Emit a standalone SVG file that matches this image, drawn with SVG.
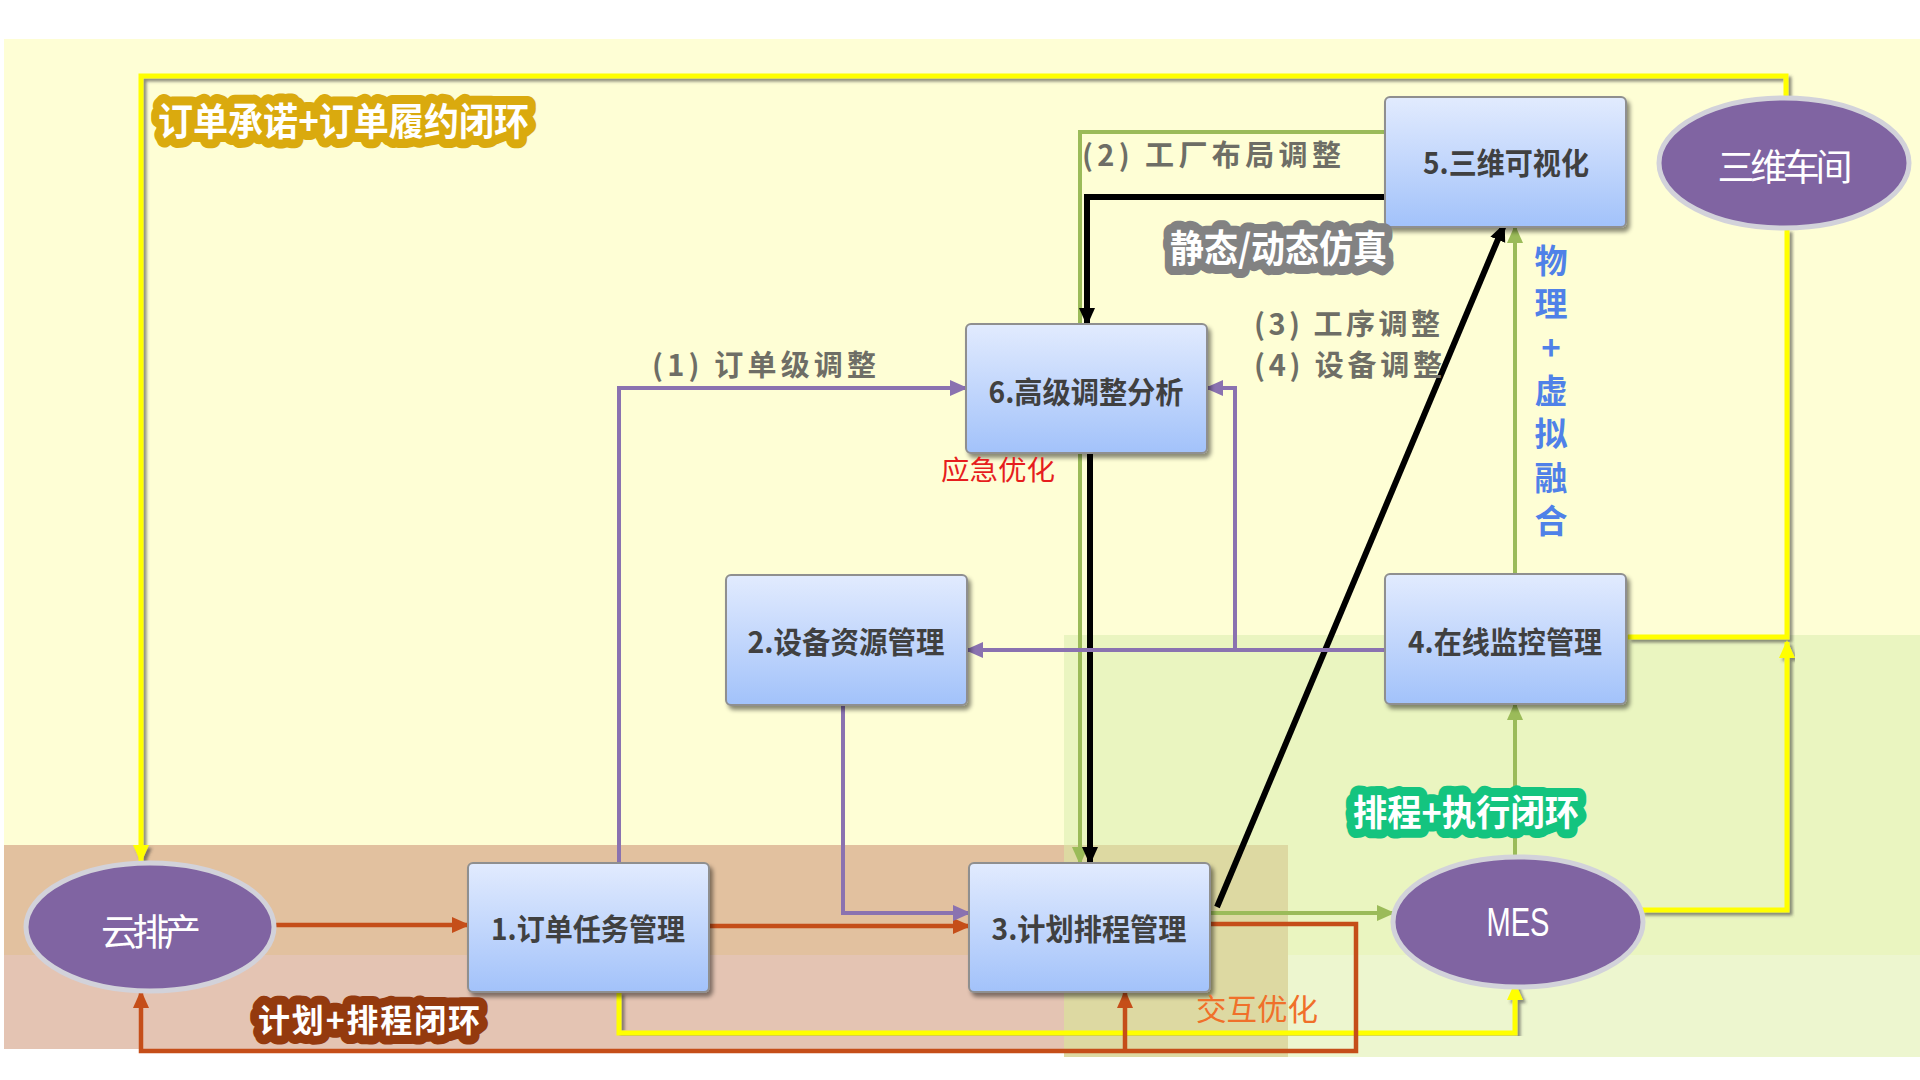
<svg xmlns="http://www.w3.org/2000/svg" width="1920" height="1080" viewBox="0 0 1920 1080">
<style>
.ntext{font-family:"Noto Sans CJK SC","Liberation Sans",sans-serif;font-weight:bold;font-size:30px;fill:#404040;text-anchor:middle;dominant-baseline:central}
.etext{font-family:"Noto Sans CJK SC","Liberation Sans",sans-serif;font-size:37px;fill:#ffffff;text-anchor:middle;dominant-baseline:central}
.lbl{font-family:"Noto Sans CJK SC","Liberation Sans",sans-serif;font-weight:bold;font-size:29px;fill:#6e6e66;dominant-baseline:central}
.cl{font-family:"Noto Sans CJK SC","Liberation Sans",sans-serif;font-weight:bold;dominant-baseline:central}
.cs{fill:none;stroke-width:18px;stroke-linejoin:round;stroke-linecap:round}
.cf{fill:#ffffff}
.box{fill:url(#boxg);stroke:#8f8f8f;stroke-width:2;filter:url(#sh)}
.ell{fill:#8064a2;stroke:#d2d2da;stroke-width:5}
.c{fill:none;stroke-linejoin:miter}
.y{stroke:#ffff00;stroke-width:5;filter:url(#lsh)}
.o{stroke:#c54e19;stroke-width:4.5}
.g{stroke:#9bbb59;stroke-width:4}
.k{stroke:#000000;stroke-width:6}
.p{stroke:#8a72b0;stroke-width:4}
</style>
<defs>
<linearGradient id="boxg" x1="0" y1="0" x2="0" y2="1">
<stop offset="0" stop-color="#e2ebfe"/>
<stop offset="1" stop-color="#a2c2fa"/>
</linearGradient>
<filter id="sh" x="-10%" y="-10%" width="130%" height="130%">
<feDropShadow dx="3" dy="4" stdDeviation="2" flood-color="#000" flood-opacity="0.45"/>
</filter>
<filter id="lsh" x="-5%" y="-5%" width="110%" height="110%">
<feDropShadow dx="3" dy="3" stdDeviation="1.5" flood-color="#404040" flood-opacity="0.6"/>
</filter>
<marker id="ay" markerUnits="userSpaceOnUse" markerWidth="18" markerHeight="18" viewBox="0 0 18 18" refX="16" refY="9" orient="auto"><path d="M0,1 L18,9 L0,17 Z" fill="#ffff00"/></marker>
<marker id="ao" markerUnits="userSpaceOnUse" markerWidth="18" markerHeight="18" viewBox="0 0 18 18" refX="16" refY="9" orient="auto"><path d="M0,1 L18,9 L0,17 Z" fill="#c54e19"/></marker>
<marker id="ag" markerUnits="userSpaceOnUse" markerWidth="18" markerHeight="18" viewBox="0 0 18 18" refX="16" refY="9" orient="auto"><path d="M0,1 L18,9 L0,17 Z" fill="#9bbb59"/></marker>
<marker id="ak" markerUnits="userSpaceOnUse" markerWidth="18" markerHeight="18" viewBox="0 0 18 18" refX="16" refY="9" orient="auto"><path d="M0,1 L18,9 L0,17 Z" fill="#000000"/></marker>
<marker id="ap" markerUnits="userSpaceOnUse" markerWidth="18" markerHeight="18" viewBox="0 0 18 18" refX="16" refY="9" orient="auto"><path d="M0,1 L18,9 L0,17 Z" fill="#8a72b0"/></marker>
</defs>

<g id="background">
<rect x="0" y="0" width="1920" height="1080" fill="#ffffff"/>
<rect x="4" y="39" width="1916" height="806" fill="#fefed5"/>
<rect x="1064" y="635" width="856" height="320" fill="#eaf5c0"/>
<rect x="1288" y="955" width="632" height="102" fill="#edf6cf"/>
<rect x="4" y="845" width="1060" height="110" fill="#e2c19f"/>
<rect x="4" y="955" width="1060" height="94" fill="#e4c4b3"/>
<rect x="1064" y="845" width="224" height="212" fill="#ddd9a2"/>
</g>

<g id="connectors">
<path class="c y" d="M1786,98 V76 H141 V861" marker-end="url(#ay)"/>
<path class="c y" d="M1628,637 H1787 V229"/>
<path class="c y" d="M1641,910 H1787 V642" marker-end="url(#ay)"/>
<path class="c y" d="M619,992 V1033 H1515 V984" marker-end="url(#ay)"/>

<path class="c o" d="M275,925 H468" marker-end="url(#ao)"/>
<path class="c o" d="M709,926 H969" marker-end="url(#ao)"/>
<path class="c o" d="M1210,924 H1356 V1051 H141 V992" marker-end="url(#ao)"/>
<path class="c o" d="M1125,1051 V992" marker-end="url(#ao)"/>

<path class="c g" d="M1210,913 H1393" marker-end="url(#ag)"/>
<path class="c g" d="M1515,857 V704" marker-end="url(#ag)"/>
<path class="c g" d="M1515,574 V227" marker-end="url(#ag)"/>
<path class="c g" d="M1385,132 H1080 V863" marker-end="url(#ag)"/>

<path class="c k" d="M1385,197 H1087 V324" marker-end="url(#ak)"/>
<path class="c k" d="M1090,453 V863" marker-end="url(#ak)"/>
<path class="c k" d="M1217,907 L1504,225" marker-end="url(#ak)"/>

<path class="c p" d="M619,863 V388 H966" marker-end="url(#ap)"/>
<path class="c p" d="M1385,650 H967" marker-end="url(#ap)"/>
<path class="c p" d="M1235,650 V388 H1207" marker-end="url(#ap)"/>
<path class="c p" d="M843,705 V913 H969" marker-end="url(#ap)"/>
</g>

<g id="node-cloud">
<ellipse class="ell" cx="150" cy="927" rx="124" ry="64"/>
<text class="etext" x="151" y="930" textLength="100" lengthAdjust="spacing">云排产</text>
</g>
<g id="node-mes">
<ellipse class="ell" cx="1518" cy="922" rx="125" ry="65"/>
<text class="etext" x="1518" y="922" style="font-family:'Liberation Sans',sans-serif;font-size:40px" textLength="63" lengthAdjust="spacingAndGlyphs">MES</text>
</g>
<g id="node-3dshop">
<ellipse class="ell" cx="1784" cy="163" rx="125" ry="65"/>
<text class="etext" x="1785" y="165" textLength="135" lengthAdjust="spacing">三维车间</text>
</g>

<g id="node-1">
<rect class="box" x="468" y="863" width="241" height="129" rx="5"/>
<text class="ntext" x="588" y="927" textLength="194" lengthAdjust="spacingAndGlyphs">1.订单任务管理</text>
</g>
<g id="node-2">
<rect class="box" x="726" y="575" width="241" height="130" rx="5"/>
<text class="ntext" x="846" y="640" textLength="197" lengthAdjust="spacingAndGlyphs">2.设备资源管理</text>
</g>
<g id="node-3">
<rect class="box" x="969" y="863" width="241" height="129" rx="5"/>
<text class="ntext" x="1089" y="927" textLength="195" lengthAdjust="spacingAndGlyphs">3.计划排程管理</text>
</g>
<g id="node-4">
<rect class="box" x="1385" y="574" width="241" height="130" rx="5"/>
<text class="ntext" x="1505" y="640" textLength="194" lengthAdjust="spacingAndGlyphs">4.在线监控管理</text>
</g>
<g id="node-5">
<rect class="box" x="1385" y="97" width="241" height="130" rx="5"/>
<text class="ntext" x="1506" y="161" textLength="166" lengthAdjust="spacingAndGlyphs">5.三维可视化</text>
</g>
<g id="node-6">
<rect class="box" x="966" y="324" width="241" height="129" rx="5"/>
<text class="ntext" x="1086" y="390" textLength="195" lengthAdjust="spacingAndGlyphs">6.高级调整分析</text>
</g>

<g id="labels">
<g class="cl" style="font-size:38px">
<text class="cs" x="158" y="118" stroke="#daaa0e" textLength="371" lengthAdjust="spacingAndGlyphs">订单承诺+订单履约闭环</text>
<text class="cf" x="158" y="118" textLength="371" lengthAdjust="spacingAndGlyphs">订单承诺+订单履约闭环</text>
</g>
<g class="cl" style="font-size:38px">
<text class="cs" x="1170" y="245" stroke="#828282" textLength="217" lengthAdjust="spacingAndGlyphs">静态/动态仿真</text>
<text class="cf" x="1170" y="245" textLength="217" lengthAdjust="spacingAndGlyphs">静态/动态仿真</text>
</g>
<g class="cl" style="font-size:32px">
<text class="cs" x="258" y="1018" stroke="#943a0e" textLength="222" lengthAdjust="spacing">计划+排程闭环</text>
<text class="cf" x="258" y="1018" textLength="222" lengthAdjust="spacing">计划+排程闭环</text>
</g>
<g class="cl" style="font-size:36px">
<text class="cs" x="1353" y="810" stroke="#14c47f" textLength="226" lengthAdjust="spacingAndGlyphs">排程+执行闭环</text>
<text class="cf" x="1353" y="810" textLength="226" lengthAdjust="spacingAndGlyphs">排程+执行闭环</text>
</g>

<text class="lbl" x="652" y="363" textLength="224" lengthAdjust="spacing">(1) 订单级调整</text>
<text class="lbl" x="1082" y="153" textLength="259" lengthAdjust="spacing">(2) 工厂布局调整</text>
<text class="lbl" x="1254" y="322" textLength="186" lengthAdjust="spacing">(3) 工序调整</text>
<text class="lbl" x="1254" y="363" textLength="188" lengthAdjust="spacing">(4) 设备调整</text>

<text x="941" y="468" style="font-family:'Noto Sans CJK SC',sans-serif;font-size:27px;fill:#e61e1e;dominant-baseline:central" textLength="114" lengthAdjust="spacingAndGlyphs">应急优化</text>
<text x="1196" y="1007" style="font-family:'Noto Sans CJK SC',sans-serif;font-size:30px;fill:#f0702a;dominant-baseline:central" textLength="122" lengthAdjust="spacingAndGlyphs">交互优化</text>

<text x="1551" y="244" style="font-family:'Noto Sans CJK SC',sans-serif;font-weight:bold;font-size:33px;fill:#4f81e8;writing-mode:vertical-rl;text-orientation:upright;letter-spacing:10.3px">物理+虚拟融合</text>
</g>
</svg>
